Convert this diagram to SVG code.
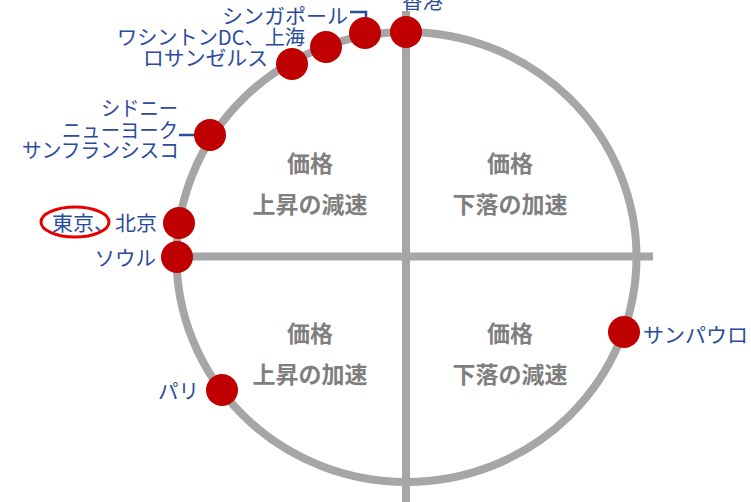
<svg xmlns="http://www.w3.org/2000/svg" width="751" height="502" viewBox="0 0 751 502">
  <style>
    .axis { fill: none; stroke: #a6a6a6; stroke-width: 8; }
    .dot { fill: #c00000; }
    .lbl { font-family: "Noto Sans CJK JP", "Noto Sans", sans-serif; font-size: 20.5px; fill: #2b4c9b; }
    .q { font-family: "Noto Sans CJK JP", "Noto Sans", sans-serif; font-size: 23px; font-weight: bold; fill: #7f7f7f; text-anchor: middle; }
    .lead { fill: none; stroke: #2b4c9b; stroke-width: 2.5; }
  </style>
  <rect width="751" height="502" fill="#ffffff"/>
  <g id="frame">
    <ellipse class="axis" cx="406.5" cy="257" rx="230" ry="225"/>
    <line class="axis" x1="406" y1="11" x2="406" y2="502"/>
    <line class="axis" x1="176" y1="256.5" x2="653" y2="256.5"/>
  </g>
  <g id="quadrants">
    <g id="q-upper-left"><text class="q" x="310" y="172">価格</text><text class="q" x="310" y="213">上昇の減速</text></g>
    <g id="q-upper-right"><text class="q" x="510" y="172">価格</text><text class="q" x="510" y="213">下落の加速</text></g>
    <g id="q-lower-left"><text class="q" x="310" y="342">価格</text><text class="q" x="310" y="383">上昇の加速</text></g>
    <g id="q-lower-right"><text class="q" x="510" y="342">価格</text><text class="q" x="510" y="383">下落の減速</text></g>
  </g>
  <g id="connectors">
    <polyline class="lead" points="350,12 366,12 366,22"/>
    <line class="lead" x1="179" y1="135" x2="196" y2="135"/>
  </g>
  <g id="hongkong"><circle class="dot" cx="406" cy="32" r="16"/><text class="lbl" x="402" y="8.5">香港</text></g>
  <g id="singapore"><circle class="dot" cx="365" cy="33" r="16"/><text class="lbl" x="222" y="24" textLength="126" lengthAdjust="spacingAndGlyphs">シンガポール</text></g>
  <g id="washington-shanghai"><circle class="dot" cx="326" cy="47" r="16"/><text class="lbl" x="117" y="45" textLength="188" lengthAdjust="spacingAndGlyphs">ワシントンDC、上海</text></g>
  <g id="losangeles"><circle class="dot" cx="292" cy="64" r="16"/><text class="lbl" x="143" y="66" textLength="125" lengthAdjust="spacingAndGlyphs">ロサンゼルス</text></g>
  <g id="sydney-ny-sf"><circle class="dot" cx="210" cy="135" r="16"/>
    <text class="lbl" x="178" y="116" text-anchor="end" textLength="77" lengthAdjust="spacingAndGlyphs">シドニー</text>
    <text class="lbl" x="178" y="137.5" text-anchor="end" textLength="116" lengthAdjust="spacingAndGlyphs">ニューヨーク</text>
    <text class="lbl" x="179" y="158" text-anchor="end" textLength="157" lengthAdjust="spacingAndGlyphs">サンフランシスコ</text>
  </g>
  <g id="tokyo-beijing"><circle class="dot" cx="179" cy="223" r="16"/>
    <text class="lbl" x="157" y="231" text-anchor="end" textLength="105" lengthAdjust="spacingAndGlyphs">東京、北京</text>
    <ellipse cx="75" cy="222" rx="34" ry="15" fill="none" stroke="#e60000" stroke-width="3"/>
  </g>
  <g id="seoul"><circle class="dot" cx="177" cy="257" r="16"/><text class="lbl" x="156" y="266" text-anchor="end">ソウル</text></g>
  <g id="paris"><circle class="dot" cx="222" cy="390" r="16"/><text class="lbl" x="199" y="399" text-anchor="end">パリ</text></g>
  <g id="saopaulo"><circle class="dot" cx="624" cy="332" r="16"/><text class="lbl" x="643" y="343" textLength="105" lengthAdjust="spacingAndGlyphs">サンパウロ</text></g>
</svg>
